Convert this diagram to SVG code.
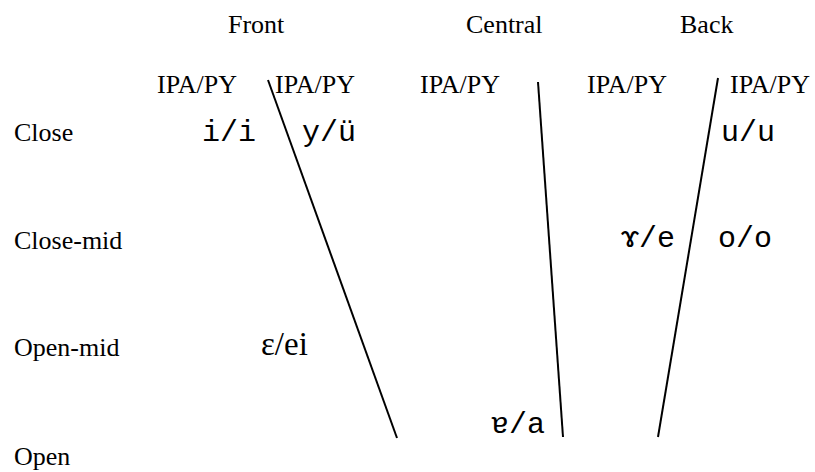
<svg xmlns="http://www.w3.org/2000/svg" width="815" height="472" viewBox="0 0 815 472">
<style>
.lbl{font-family:"Liberation Serif","Times New Roman",serif;font-size:26px;fill:#000}
.hdr{font-family:"Liberation Serif","Times New Roman",serif;font-size:26px;fill:#000}
.ph{font-family:"Liberation Mono","DejaVu Sans Mono",monospace;font-size:30px;fill:#000}
.phs{font-family:"Liberation Serif","DejaVu Serif",serif;font-size:33px;fill:#000}
.ln{stroke:#000;stroke-width:2;fill:none}
</style>
<rect width="815" height="472" fill="#fff"/>
<g id="connectors">
<line class="ln" x1="268" y1="80" x2="397" y2="438"/>
<line class="ln" x1="538" y1="82" x2="563" y2="437"/>
<line class="ln" x1="718" y1="78" x2="658" y2="437"/>
</g>
<g id="col-front"><text class="hdr" x="228" y="33">Front</text></g>
<g id="col-central"><text class="hdr" x="466" y="33">Central</text></g>
<g id="col-back"><text class="hdr" x="680" y="33">Back</text></g>
<g id="ipa1"><text class="hdr" x="157" y="93">IPA/PY</text></g>
<g id="ipa2"><text class="hdr" x="275" y="93">IPA/PY</text></g>
<g id="ipa3"><text class="hdr" x="420" y="93">IPA/PY</text></g>
<g id="ipa4"><text class="hdr" x="587" y="93">IPA/PY</text></g>
<g id="ipa5"><text class="hdr" x="730" y="93">IPA/PY</text></g>
<g id="row-close"><text class="lbl" x="14" y="141">Close</text></g>
<g id="row-closemid"><text class="lbl" x="14" y="249">Close-mid</text></g>
<g id="row-openmid"><text class="lbl" x="14" y="356">Open-mid</text></g>
<g id="row-open"><text class="lbl" x="14" y="465">Open</text></g>
<g id="v-i"><text class="ph" x="202" y="141">i/i</text></g>
<g id="v-y"><text class="ph" x="302" y="141">y/ü</text></g>
<g id="v-u"><text class="ph" x="721" y="141">u/u</text></g>
<g id="v-gamma"><text class="ph" x="621" y="247">ɤ/e</text></g>
<g id="v-o"><text class="ph" x="718" y="247">o/o</text></g>
<g id="v-eps"><text class="phs" x="261" y="355">ɛ/ei</text></g>
<g id="v-a"><text class="ph" x="491" y="433">ɐ/a</text></g>
</svg>
